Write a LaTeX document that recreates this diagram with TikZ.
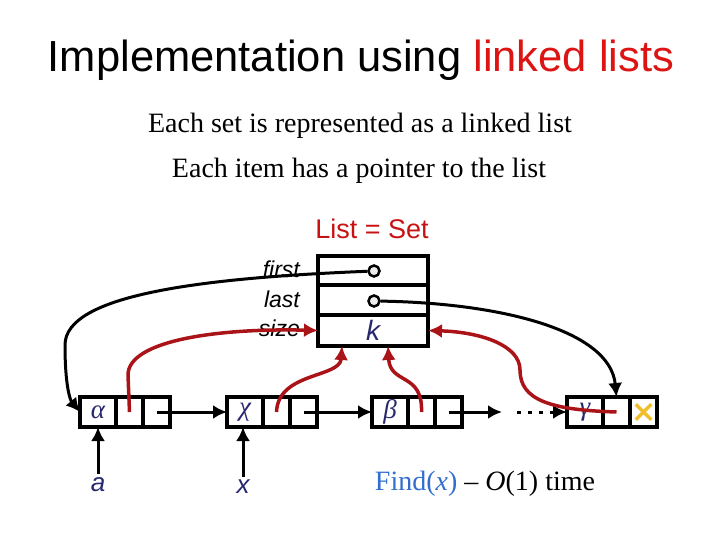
\documentclass[tikz,border=0pt]{standalone}
\usepackage{fontspec}
\setmainfont{Liberation Serif}
\setsansfont{Liberation Sans}
\usetikzlibrary{arrows.meta, positioning, shapes.misc}
\definecolor{titlered}{RGB}{220,20,20}
\definecolor{ptrred}{RGB}{170,20,25}
\definecolor{navy}{RGB}{40,40,110}
\definecolor{findblue}{RGB}{50,110,205}
\definecolor{nilyellow}{RGB}{240,190,40}
\tikzset{
  >=latex,
  % cells of the list items
  cell/.style={draw,line width=3.5,rectangle,minimum height=30,inner sep=0,outer sep=0,
    text=navy,font=\itshape\fontsize{27}{27}\selectfont},
  % rows of the list header
  row/.style={draw,line width=3.5,rectangle,minimum width=110,inner sep=0,outer sep=0},
  dot/.style={circle,draw,line width=2.5,fill=gray!15,minimum size=11,inner sep=0},
  field/.style={font=\sffamily\itshape\fontsize{23}{23}\selectfont,anchor=base east,inner sep=0},
  % pointers
  ptr/.style={-{Latex[length=14pt,width=14pt]},line width=3},
  back ptr/.style={ptr,ptrred,line width=3.5}
}
\begin{document}
\begin{tikzpicture}[x=1pt,y=-1pt]
  \useasboundingbox (0,0) rectangle (720,540);
  \node[font=\sffamily\fontsize{43.5}{44}\selectfont,anchor=base] (title) at (361,72)
    {Implementation using \textcolor{titlered}{linked lists}};
  \node[font=\fontsize{28}{28}\selectfont,anchor=base] (line1) at (360,133)
    {Each set is represented as a linked list};
  \node[font=\fontsize{28}{28}\selectfont,anchor=base] (line2) at (359,178)
    {Each item has a pointer to the list};
  \node[font=\sffamily\fontsize{27}{27}\selectfont,text=titlered!90!black,anchor=base] (set) at (372,238)
    {List = Set};
  % list header
  \node[row,minimum height=29] (rfirst) at (373,270.5) {};
  \node[row,minimum height=30] (rlast) at (373,300) {};
  \node[row,minimum height=31,text=navy,font=\sffamily\itshape\fontsize{28}{28}\selectfont] (rsize) at (373,330.5) {k};
  \node[dot] (pfirst) at (374,271) {};
  \node[dot] (plast) at (374,301) {};
  \node[field] (lfirst) at (300,277) {first};
  \node[field] (llast) at (300,307) {last};
  \node[field] (lsize) at (300,336) {size};
  % items
  \foreach \n/\x/\lab in {a/80/α, x/227/χ, b/372/β, g/567/γ}{
    \node[cell,minimum width=36] (\n1) at (\x+18,412) {\lab};
    \node[cell,minimum width=27,right=0 of \n1] (\n2) {};
    \node[cell,minimum width=27,right=0 of \n2] (\n3) {};
  }
  \node[cross out,draw=nilyellow,line width=3.5,minimum size=12,inner sep=0] (nil) at (g3) {};
  \coordinate (gap) at (502,412);
  \coordinate (more) at (517,412);
  \draw[ptr] (a3.center) -- (x1.west);
  \draw[ptr] (x3.center) -- (b1.west);
  \draw[ptr] (b3.center) -- (gap);
  \draw[ptr,dash pattern=on 4 off 7] (more) -- (g1.west);
  % elements
  \node[font=\sffamily\itshape\fontsize{26}{26}\selectfont,text=navy] (va) at (98,485) {a};
  \node[font=\sffamily\itshape\fontsize{26}{26}\selectfont,text=navy] (vx) at (243,487) {x};
  \draw[ptr] (va) -- (a1);
  \draw[ptr] (vx) -- (vx |- x1.south);
  \node[font=\fontsize{28}{28}\selectfont,anchor=base] (find) at (485,490)
    {\textcolor{findblue}{Find(\textit{x})} -- \textit{O}(1) time};
  % first and last
  \draw[ptr] (pfirst) .. controls (200,278) and (65,295) .. (65,345)
    .. controls (65,385) and (70,400) .. (a1.west);
  \draw[ptr] (plast) .. controls (500,303) and (610,330) .. (g2.north);
  % pointers back to the list
  \draw[back ptr] (a2.center) -- (128,375) .. controls (128,340) and (220,328) .. (rsize.west);
  \draw[back ptr] (x2.center) .. controls (278,372) and (340,378) .. ([xshift=-31]rsize.south);
  \draw[back ptr] (b2.center) .. controls (423,372) and (390,385) .. ([xshift=15]rsize.south);
  \draw[back ptr] (g2.center) .. controls (550,410) and (520,400) .. (520,370)
    .. controls (520,345) and (480,332) .. (rsize.east);
\end{tikzpicture}
\end{document}
